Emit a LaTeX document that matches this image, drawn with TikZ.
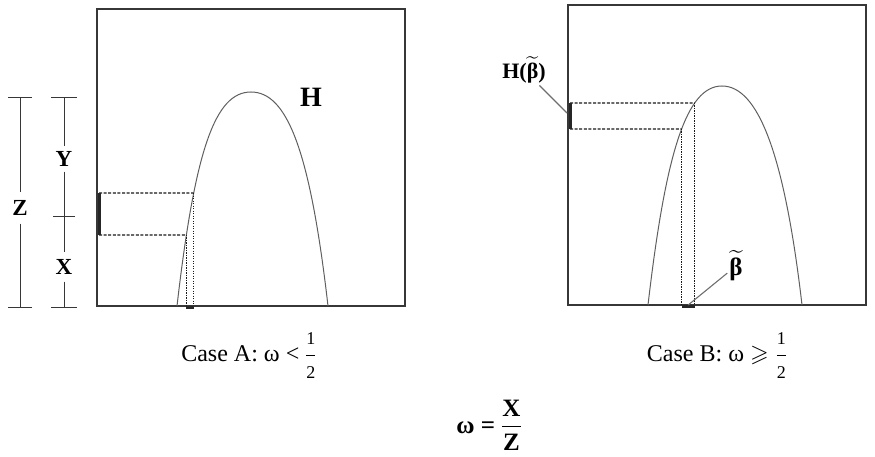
\documentclass[tikz,border=0pt]{standalone}
\usepackage{amsmath,amssymb}
\usepackage{fontspec}
\setmainfont{Liberation Serif}
\usetikzlibrary{
  arrows.meta,
  intersections,
  calc
}
\definecolor{framecol}{RGB}{55,55,55}
\definecolor{curvecol}{RGB}{95,95,95}
\definecolor{guidecol}{RGB}{25,25,25}
\definecolor{leadcol}{RGB}{110,110,110}
\newcommand{\halffrac}{\dfrac{\text{\fontsize{18}{19}\selectfont 1}}{\text{\fontsize{18}{19}\selectfont 2}}}
\newcommand{\tildebeta}{\widetilde{\text{β}}}

\begin{document}
\begin{tikzpicture}[x=1pt, y=-1pt,
  frame/.style={draw=framecol, line width=1.2pt},
  hcurve/.style={draw=curvecol, line width=1pt},
  dashguide/.style={draw=guidecol, line width=1.3pt, dash pattern=on 3pt off 1.6pt},
  dotguide/.style={draw=guidecol, line width=1.3pt, dash pattern=on 1.3pt off 1.2pt},
  thickbar/.style={draw=black!85, line width=3pt},
  dimline/.style={draw=framecol, line width=1pt},
  dimlbl/.style={font=\fontsize{23}{26}\selectfont\bfseries, inner sep=5pt},
  caption/.style={font=\fontsize{24}{28}\selectfont, inner sep=0pt},
  leader/.style={draw=leadcol, line width=1.1pt}]

  \useasboundingbox (0,0) rectangle (875,457);

  % -- Case A: frame and curve --
  \draw[frame] (97,9) rectangle (405,306);
  \draw[hcurve, name path=curveA] (177,306) .. controls (195,150) and (215,92) .. (251,92)
    .. controls (287,92) and (310,150) .. (328,306);
  \node[font=\fontsize{28}{32}\selectfont\bfseries] (hlab) at (311,97) {H};

  \path[name path=lineAhi] (97,193) -- (405,193);
  \path[name path=lineAlo] (97,235) -- (405,235);
  \path[name intersections={of=curveA and lineAhi, sort by=lineAhi, by={ahi}}];
  \path[name intersections={of=curveA and lineAlo, sort by=lineAlo, by={alo}}];
  \coordinate (abartop) at (99,193);
  \coordinate (abarbot) at (99,235);
  \coordinate (abase) at (0,306);

  \draw[dashguide] (abartop) -- (ahi);
  \draw[dashguide] (abarbot) -- (alo);
  \draw[dotguide] (ahi) -- (ahi |- abase);
  \draw[dotguide] (alo) -- (alo |- abase);
  \draw[thickbar] (abartop) -- (abarbot);
  \draw[thickbar] ($(alo |- abase)+(0,1)$) -- ($(ahi |- abase)+(0,1)$);

  % -- dimensions Z, Y, X --
  \coordinate (ztop) at (20,97);
  \coordinate (zbot) at (20,308);
  \node[dimlbl, inner sep=8pt] (zlab) at (20,208) {Z};
  \draw[dimline, {Bar[width=24pt]}-] (ztop) -- (zlab);
  \draw[dimline, -{Bar[width=24pt]}] (zlab) -- (zbot);

  \coordinate (ytop) at (64,97);
  \coordinate (ymid) at (64,217);
  \coordinate (xbot) at (64,308);
  \node[dimlbl] (ylab) at (64,159) {Y};
  \node[dimlbl, inner sep=7pt] (xlab) at (64,267) {X};
  \draw[dimline, {Bar[width=26pt]}-] (ytop) -- (ylab);
  \draw[dimline, -{Bar[width=22pt]}] (ylab) -- (ymid);
  \draw[dimline] (ymid) -- (xlab);
  \draw[dimline, -{Bar[width=26pt]}] (xlab) -- (xbot);

  % -- Case B: frame and curve --
  \draw[frame] (568,5) rectangle (866,305);
  \draw[hcurve, name path=curveB] (648,305) .. controls (666,150) and (687,86) .. (722,86)
    .. controls (757,86) and (784,150) .. (802,305);

  \path[name path=lineBhi] (568,103) -- (866,103);
  \path[name path=lineBlo] (568,129) -- (866,129);
  \path[name intersections={of=curveB and lineBhi, sort by=lineBhi, by={bhi}}];
  \path[name intersections={of=curveB and lineBlo, sort by=lineBlo, by={blo}}];
  \coordinate (bbartop) at (570,103);
  \coordinate (bbarbot) at (570,129);
  \coordinate (bbarmid) at (567,113);
  \coordinate (bbase) at (0,305);

  \draw[dashguide] (bbartop) -- (bhi);
  \draw[dashguide] (bbarbot) -- (blo);
  \draw[dotguide] (bhi) -- (bhi |- bbase);
  \draw[dotguide] (blo) -- (blo |- bbase);
  \draw[thickbar] (bbartop) -- (bbarbot);
  \draw[thickbar] ($(blo |- bbase)+(0,1)$) -- ($(bhi |- bbase)+(0,1)$);
  \coordinate (bmark) at ($(blo |- bbase)!0.5!(bhi |- bbase)$);

  % -- labels with leaders --
  \node[font=\fontsize{22}{26}\selectfont\bfseries, inner sep=2pt] (hbetalab) at (524,70)
    {H($\tildebeta$)};
  \draw[leader] (hbetalab) -- (bbarmid);
  \node[font=\fontsize{25}{28}\selectfont\bfseries, inner sep=2pt] (betalab) at (736,266)
    {$\tildebeta$};
  \draw[leader] (betalab) -- (bmark);

  % -- captions --
  \node[caption] (capA) at (249,356) {Case A: ω < $\halffrac$};
  \node[caption] (capB) at (717,356) {Case B: ω $\geqslant\halffrac$};
  \node[caption, font=\fontsize{25}{28}\selectfont\bfseries] (omega) at (489,425)
    {ω = $\dfrac{\text{X}}{\text{Z}}$};

\end{tikzpicture}
\end{document}
